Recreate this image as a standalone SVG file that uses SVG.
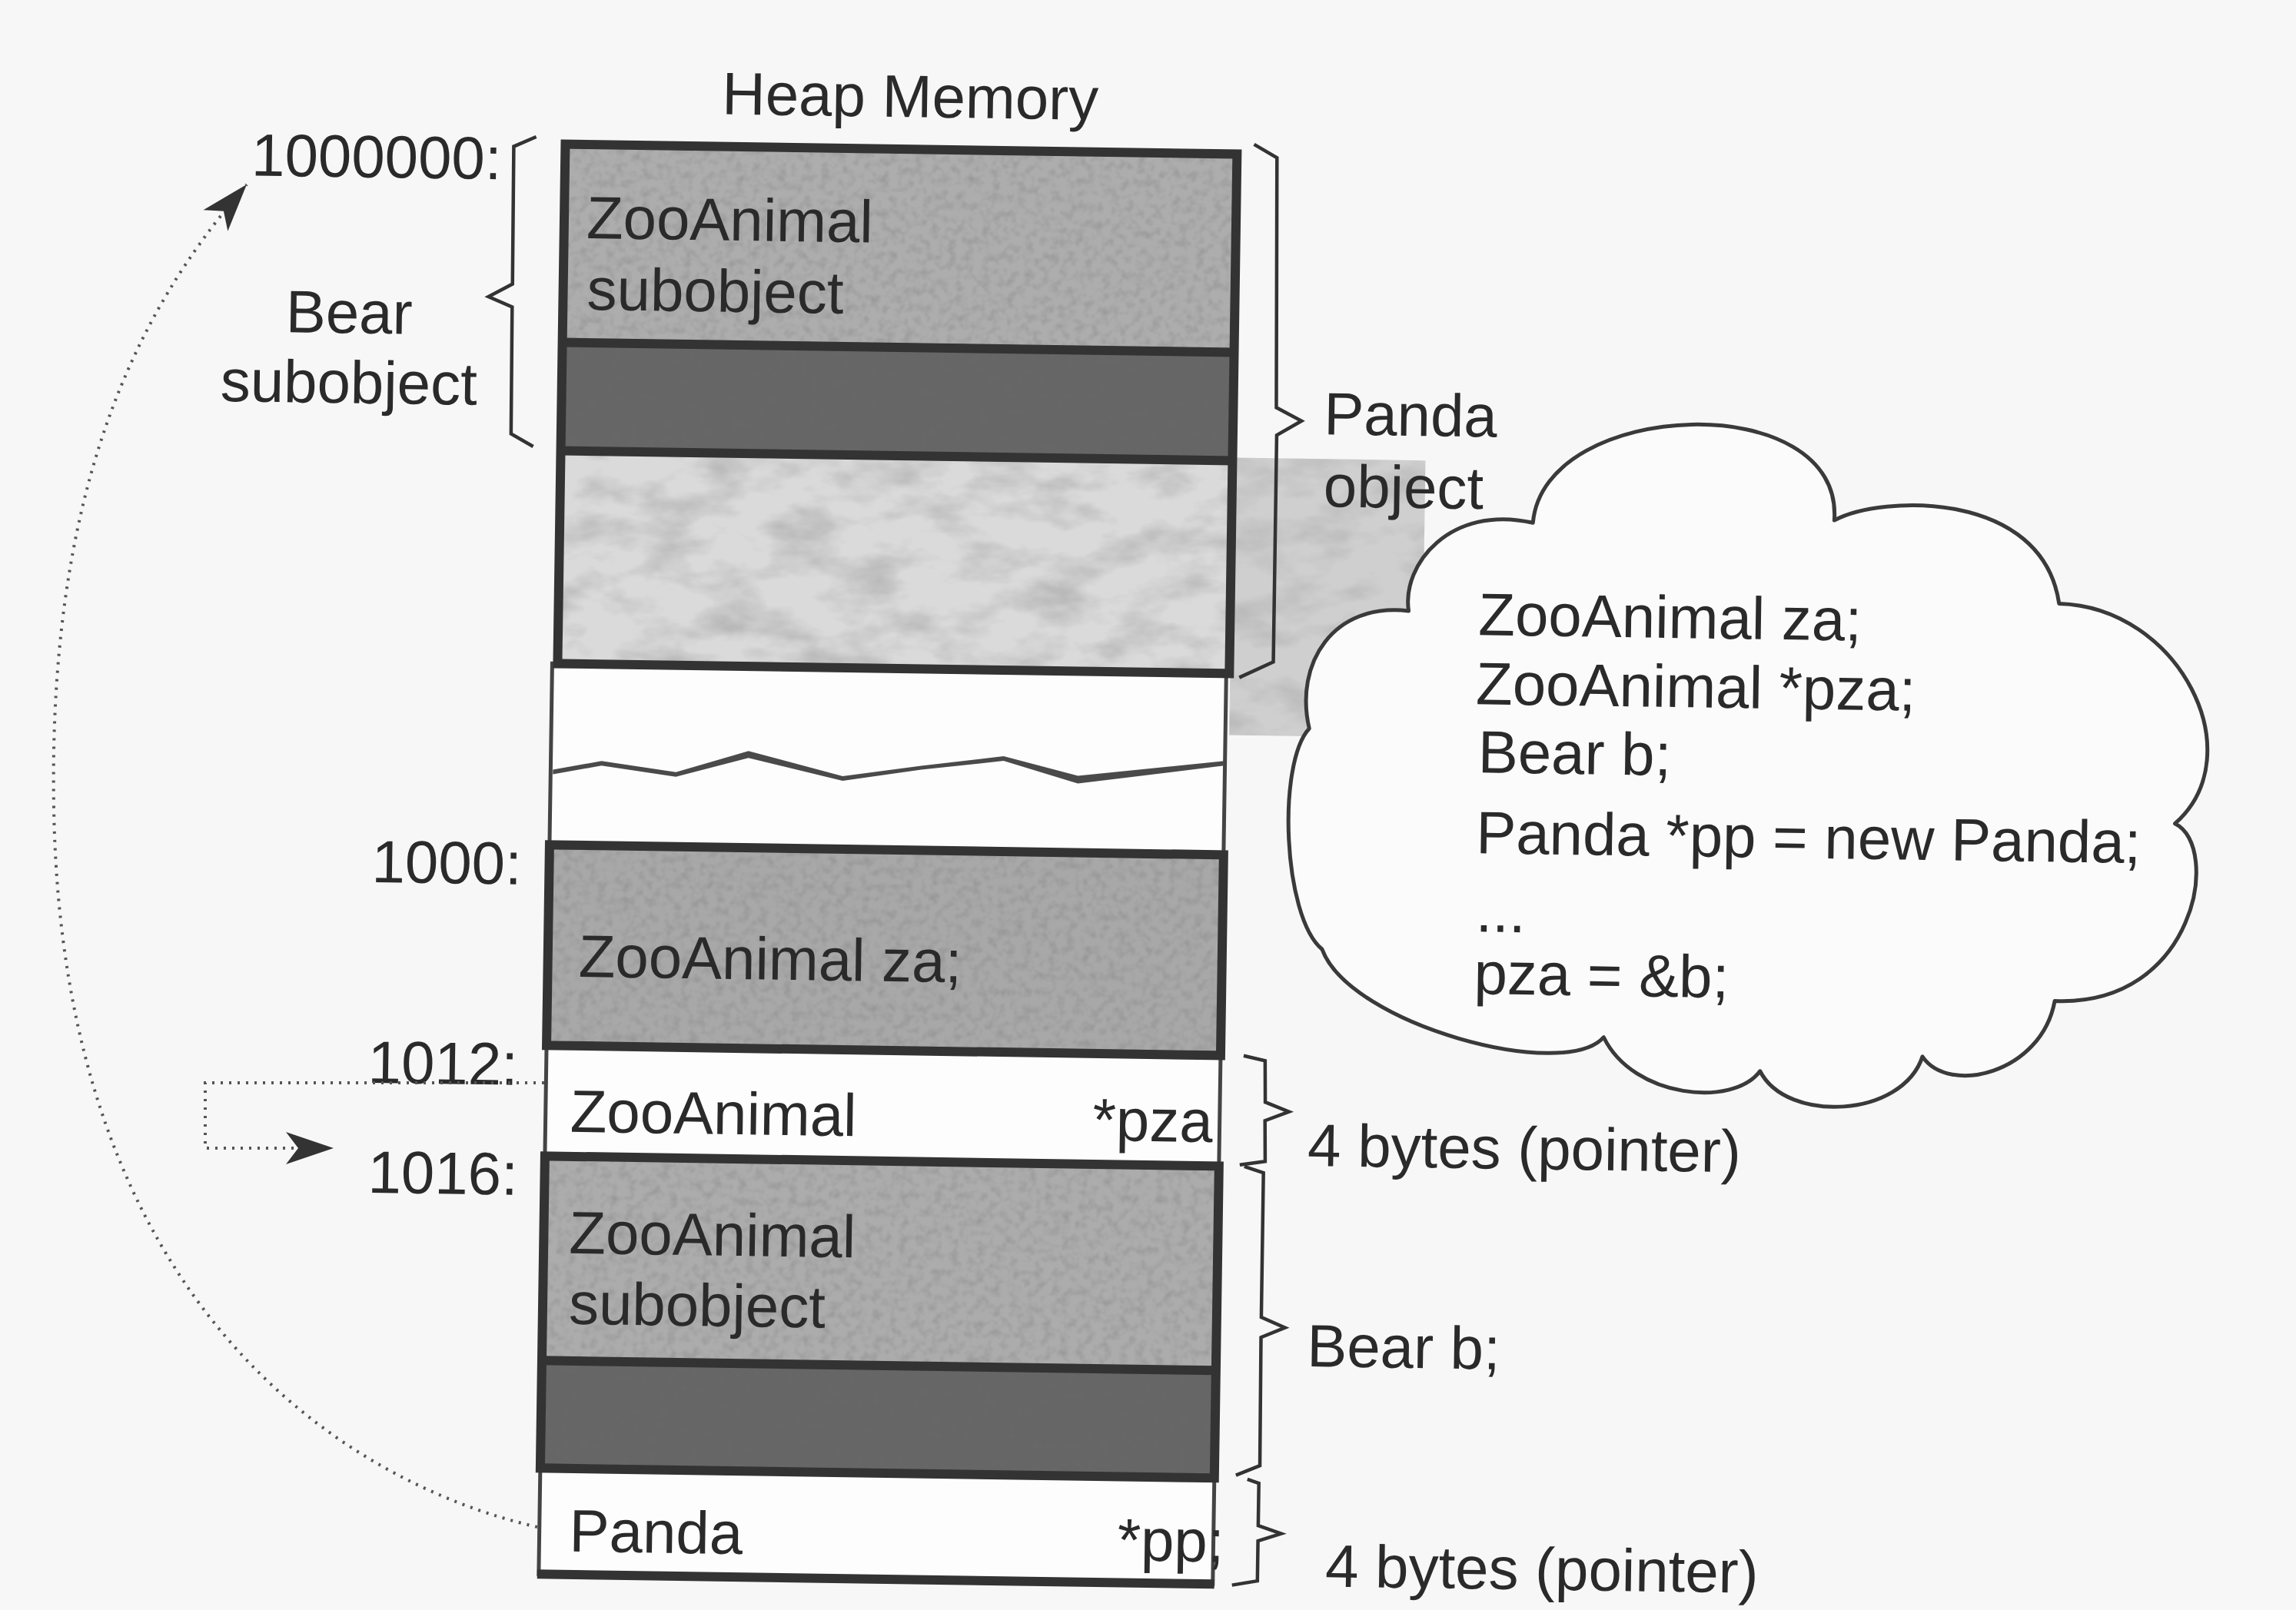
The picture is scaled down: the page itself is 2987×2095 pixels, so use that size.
<svg xmlns="http://www.w3.org/2000/svg" width="2987" height="2095" viewBox="0 0 2987 2095">
<defs>
<style>
.t{font-family:"Liberation Sans",Arial,Helvetica,sans-serif;font-size:78px;fill:#2a2a2a}
.mid{text-anchor:middle}
.end{text-anchor:end}
.brace{fill:none;stroke:#333;stroke-width:4.5;stroke-linejoin:miter}
.thickline{stroke:#333;stroke-width:12;fill:none}
.box{fill:none;stroke:#333;stroke-width:12}
.wbox{fill:#fdfdfd;stroke:#444;stroke-width:5}
.dot{fill:none;stroke:#555;stroke-width:4;stroke-dasharray:3 8}
.cloud{fill:#fbfbfb;stroke:#3a3a3a;stroke-width:5;stroke-linejoin:round}
</style>
<filter id="grain" x="0" y="0" width="100%" height="100%">
<feTurbulence type="fractalNoise" baseFrequency="0.09" numOctaves="2" seed="2" result="n"/>
<feColorMatrix in="n" type="matrix" values="0 0 0 0 0.15 0 0 0 0 0.15 0 0 0 0 0.15 2 0 0 0 -0.85" result="a"/>
<feComposite in="a" in2="SourceAlpha" operator="in"/>
</filter>
<filter id="mottle" x="0" y="0" width="100%" height="100%">
<feTurbulence type="fractalNoise" baseFrequency="0.012 0.025" numOctaves="4" seed="9" result="n"/>
<feColorMatrix in="n" type="matrix" values="0 0 0 0 0.35 0 0 0 0 0.35 0 0 0 0 0.35 2.4 0 0 0 -1.0" result="a"/>
<feComposite in="a" in2="SourceAlpha" operator="in"/>
</filter>
<marker id="ah" viewBox="-66 -26 70 52" refX="0" refY="0" markerWidth="70" markerHeight="52" markerUnits="userSpaceOnUse" orient="auto">
<path d="M0,0 L-62,-21 L-46,0 L-62,21 Z" fill="#333"/>
</marker>
</defs>

<rect width="2987" height="2095" fill="#f7f7f7"/>

<g transform="rotate(0.85 1500 1100)">

<g id="shadow">
<rect x="1597" y="594" width="250" height="361" fill="#cfcfcf"/>
<rect x="1597" y="594" width="250" height="361" fill="#000" filter="url(#mottle)" opacity="0.45"/>
</g>

<g id="title">
<text class="t" x="925" y="157" fill="#333">Heap Memory</text>
</g>

<g id="gap">
<rect class="wbox" x="715" y="875" width="877" height="236"/>
<polygon points="718,1013 781,1001 878,1014 972,985 1095,1016 1197,1001 1304,987 1401,1011 1591,989 1591,995 1401,1021 1304,993 1197,1006 1095,1022 972,994 878,1020 781,1007 718,1019" fill="#4a4a4a"/>
</g>

<g id="pza-slot">
<rect class="wbox" x="715" y="1372" width="877" height="144"/>
<text class="t" x="747" y="1484">ZooAnimal</text>
<text class="t end" x="1583" y="1485">*pza</text>
</g>

<g id="pp-slot">
<rect class="wbox" x="715" y="1922" width="877" height="138"/>
<line class="thickline" x1="713" y1="2060" x2="1594" y2="2060" stroke-width="10"/>
<text class="t" x="754" y="2030">Panda</text>
<text class="t end" x="1606" y="2031">*pp;</text>
</g>

<g id="panda-object">
<rect x="722" y="199" width="874" height="258" fill="#adadad"/>
<rect x="722" y="199" width="874" height="258" fill="#000" filter="url(#grain)" opacity="0.3"/>
<rect x="722" y="457" width="874" height="141" fill="#666"/>
<rect x="722" y="457" width="874" height="141" fill="#000" filter="url(#grain)" opacity="0.3"/>
<rect x="722" y="598" width="874" height="277" fill="#dadada"/>
<rect x="722" y="598" width="874" height="277" fill="#000" filter="url(#mottle)" opacity="0.55"/>
<rect class="box" x="722" y="199" width="874" height="676"/>
<line class="thickline" x1="722" y1="457" x2="1596" y2="457"/>
<line class="thickline" x1="722" y1="598" x2="1596" y2="598"/>
<text class="t" x="751" y="321">ZooAnimal</text>
<text class="t" x="753" y="414">subobject</text>
</g>

<g id="za">
<rect x="715" y="1111" width="877" height="261" fill="#a8a8a8"/>
<rect x="715" y="1111" width="877" height="261" fill="#000" filter="url(#grain)" opacity="0.3"/>
<rect class="box" x="715" y="1111" width="877" height="261" stroke-width="11"/>
<text class="t" x="755" y="1282">ZooAnimal za;</text>
</g>

<g id="bear-b">
<rect x="715" y="1516" width="877" height="266" fill="#acacac"/>
<rect x="715" y="1516" width="877" height="266" fill="#000" filter="url(#grain)" opacity="0.3"/>
<rect x="715" y="1782" width="877" height="140" fill="#666"/>
<rect x="715" y="1782" width="877" height="140" fill="#000" filter="url(#grain)" opacity="0.3"/>
<rect class="box" x="715" y="1516" width="877" height="406" stroke-width="11"/>
<line class="thickline" x1="715" y1="1782" x2="1592" y2="1782" stroke-width="11"/>
<text class="t" x="748" y="1642">ZooAnimal</text>
<text class="t" x="749" y="1734">subobject</text>
</g>

<g id="addresses">
<text class="t" x="314" y="246">1000000:</text>
<text class="t" x="484" y="1163">1000:</text>
<text class="t" x="483" y="1424">1012:</text>
<text class="t" x="485" y="1567">1016:</text>
</g>

<g id="bear-subobject-label">
<path class="brace" d="M684,190 L655,203 L656,382 L625,399 L656,412 L657,577 L686,593"/>
<text class="t mid" x="444" y="449">Bear</text>
<text class="t mid" x="445" y="540">subobject</text>
</g>

<g id="panda-object-label">
<path class="brace" d="M1618,186 L1648,203 L1652,528 L1685,545 L1653,564 L1653,859 L1609,880"/>
<text class="t" x="1714" y="562">Panda</text>
<text class="t" x="1715" y="656">object</text>
</g>

<g id="pza-size-label">
<path class="brace" d="M1622,1372 L1650,1378 L1651,1432 L1682,1444 L1651,1456 L1652,1509 L1619,1514"/>
<text class="t" x="1707" y="1514">4 bytes (pointer)</text>
</g>

<g id="bear-b-label">
<path class="brace" d="M1625,1516 L1650,1524 L1650,1712 L1681,1725 L1650,1738 L1651,1905 L1620,1918"/>
<text class="t" x="1710" y="1775">Bear b;</text>
</g>

<g id="pp-size-label">
<path class="brace" d="M1635,1923 L1650,1928 L1650,1983 L1680,1993 L1650,2003 L1650,2055 L1617,2061"/>
<text class="t" x="1738" y="2061">4 bytes (pointer)</text>
</g>

<g id="code-cloud">
<path class="cloud" d="M1828,790 C1818,730 1880,650 1988,673 C2000,510 2390,490 2380,664 C2440,630 2650,620 2674,768 C2830,770 2930,960 2829,1052 C2890,1080 2860,1290 2676,1285 C2660,1380 2540,1410 2505,1360 C2480,1440 2330,1450 2294,1382 C2260,1430 2130,1420 2090,1341 C2040,1400 1760,1330 1722,1232 C1670,1190 1660,990 1701,945 C1680,860 1730,780 1828,790 Z"/>
<text class="t" x="1919" y="820">ZooAnimal za;</text>
<text class="t" x="1917" y="910">ZooAnimal *pza;</text>
<text class="t" x="1921" y="999">Bear b;</text>
<text class="t" x="1920" y="1104">Panda *pp = new Panda;</text>
<text class="t" x="1921" y="1206">...</text>
<text class="t" x="1920" y="1287">pza = &amp;b;</text>
</g>

</g>

<g id="connectors">
<path class="dot" d="M708,1409 H267 V1494 H434" marker-end="url(#ah)"/>
<path class="dot" d="M699,1987 C450,1930 80,1700 70,1050 C62,600 200,380 321,240" marker-end="url(#ah)"/>
</g>
</svg>
